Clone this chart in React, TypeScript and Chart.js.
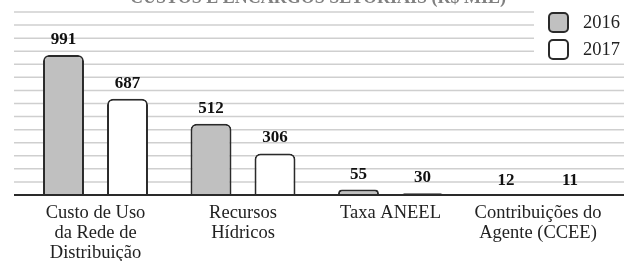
import React, { useEffect, useRef } from "react";
import { Chart, registerables } from "chart.js";

Chart.register(...registerables);

// ---- data ----
const categories: string[][] = [
  ["Custo de Uso", "da Rede de", "Distribuição"],
  ["Recursos", "Hídricos"],
  ["Taxa ANEEL"],
  ["Contribuições do", "Agente (CCEE)"],
];
const seriesNames = ["2016", "2017"];
const values2016 = [991, 512, 55, 12];
const values2017 = [687, 306, 30, 11];
const titleText = "CUSTOS E ENCARGOS SETORIAIS (R$ MIL)";

// ---- axis range (not data) ----
const Y_MIN = 17;
const Y_MAX = 1290;
const GRID_STEPS = 14;

const SERIF = "'Liberation Serif', 'Times New Roman', serif";
const INK = "#222222";

const decorPlugin = {
  id: "decor",
  beforeDatasetsDraw(chart: any) {
    const { ctx, chartArea, scales, width } = chart;
    const y = scales.y;
    ctx.save();
    ctx.strokeStyle = "#cfcfcf";
    ctx.lineWidth = 1.5;
    (y.ticks || []).forEach((t: any) => {
      const py = y.getPixelForValue(t.value);
      if (py >= chartArea.bottom - 1) return;
      ctx.beginPath();
      ctx.moveTo(14, py);
      ctx.lineTo(width, py);
      ctx.stroke();
    });
    ctx.restore();
  },
  afterDatasetsDraw(chart: any) {
    const { ctx, chartArea, width } = chart;
    ctx.save();
    // baseline axis
    ctx.strokeStyle = "#2a2a2a";
    ctx.lineWidth = 2;
    ctx.beginPath();
    ctx.moveTo(14, chartArea.bottom);
    ctx.lineTo(width, chartArea.bottom);
    ctx.stroke();
    // value labels
    ctx.fillStyle = "#111111";
    ctx.font = `bold 17px ${SERIF}`;
    ctx.textAlign = "center";
    ctx.textBaseline = "alphabetic";
    chart.data.datasets.forEach((ds: any, di: number) => {
      const meta = chart.getDatasetMeta(di);
      meta.data.forEach((el: any, i: number) => {
        const top = Math.min(el.y, chartArea.bottom + 1);
        ctx.fillText(String(ds.data[i]), el.x, top - 11);
      });
    });
    ctx.restore();
  },
  afterDraw(chart: any) {
    const { ctx, width } = chart;
    ctx.save();
    // legend area background
    ctx.fillStyle = "#ffffff";
    ctx.fillRect(width - 90, 0, 90, 60);
    // legend
    chart.data.datasets.forEach((ds: any, di: number) => {
      const bx = width - 76;
      const by = 12 + di * 27;
      ctx.beginPath();
      ctx.roundRect(bx + 1, by + 1, 19, 19, 4);
      ctx.fillStyle = ds.backgroundColor;
      ctx.fill();
      ctx.strokeStyle = "#2a2a2a";
      ctx.lineWidth = 2;
      ctx.stroke();
      ctx.fillStyle = INK;
      ctx.font = `18.5px ${SERIF}`;
      ctx.textAlign = "left";
      ctx.textBaseline = "middle";
      ctx.fillText(ds.label, bx + 35, by + 11);
    });
    // title (cut off by the top edge)
    ctx.fillStyle = "#808080";
    ctx.font = `bold 18px ${SERIF}`;
    ctx.textAlign = "center";
    ctx.textBaseline = "alphabetic";
    ctx.fillText(titleText, 318, 3);
    ctx.restore();
  },
};

export default function App() {
  const ref = useRef<HTMLCanvasElement | null>(null);

  useEffect(() => {
    if (!ref.current) return;
    const chart = new Chart(ref.current, {
      type: "bar",
      data: {
        labels: categories,
        datasets: [
          {
            label: seriesNames[0],
            data: values2016,
            backgroundColor: "#c0c0c0",
            borderColor: "#2a2a2a",
            borderWidth: 2,
            borderRadius: 6,
            borderSkipped: "bottom",
            clip: 0,
          },
          {
            label: seriesNames[1],
            data: values2017,
            backgroundColor: "#ffffff",
            borderColor: "#2a2a2a",
            borderWidth: 2,
            borderRadius: 6,
            borderSkipped: "bottom",
            clip: 0,
          },
        ],
      },
      options: {
        responsive: false,
        animation: false,
        devicePixelRatio: 1,
        layout: { padding: { left: 21.75, right: 12.25, top: 12, bottom: 0 } },
        datasets: {
          bar: { categoryPercentage: 0.8678, barPercentage: 0.64 },
        },
        plugins: {
          legend: { display: false },
          title: { display: false },
          tooltip: { enabled: false },
        },
        scales: {
          x: {
            grid: { display: false, drawTicks: false },
            border: { display: false },
            ticks: {
              color: INK,
              padding: 8,
              maxRotation: 0,
              autoSkip: false,
              font: { family: SERIF, size: 18.5, lineHeight: 1.08 },
            },
            afterFit: (s: any) => {
              s.height = 66;
            },
          },
          y: {
            display: false,
            min: Y_MIN,
            max: Y_MAX,
            ticks: { autoSkip: false },
            afterBuildTicks: (s: any) => {
              const ticks = [];
              for (let i = 0; i <= GRID_STEPS; i++) {
                ticks.push({ value: Y_MIN + (i * (Y_MAX - Y_MIN)) / GRID_STEPS });
              }
              s.ticks = ticks;
            },
          },
        },
      },
      plugins: [decorPlugin],
    });
    return () => chart.destroy();
  }, []);

  return (
    <div style={{ position: "absolute", left: 0, top: 0, width: 624, height: 261, background: "#fff" }}>
      <canvas ref={ref} width={624} height={261} style={{ display: "block", width: 624, height: 261 }} />
    </div>
  );
}
